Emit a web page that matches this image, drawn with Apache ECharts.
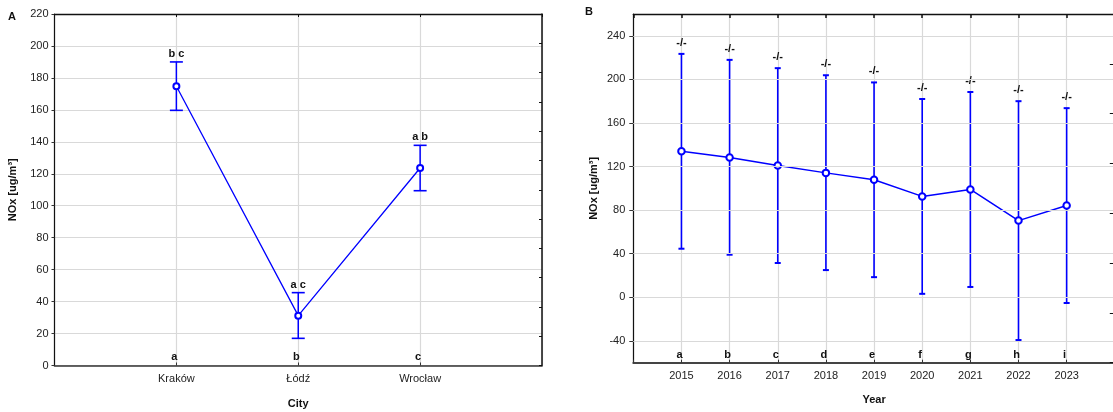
<!DOCTYPE html>
<html>
<head>
<meta charset="utf-8">
<script src="https://cdn.jsdelivr.net/npm/echarts@6/dist/echarts.min.js"></script>
<style>
  html, body { margin: 0; padding: 0; background: #fff; }
  #chart { width: 1113px; height: 412px; }
</style>
</head>
<body>
<div id="chart"></div>
<script>
// Panel A: NOx by city (mean with error bars)
const cities = ['Kraków', 'Łódź', 'Wrocław'];
const cityMean = [174.8, 31.2, 123.6];
const cityLow = [159.7, 17.0, 109.4];
const cityHigh = [190.0, 45.6, 137.8];
const cityGroupTop = ['b c', 'a c', 'a b'];
const cityGroupBottom = ['a', 'b', 'c'];
const cityYTicks = { min: 0, max: 220, step: 20 };

// Panel B: NOx by year
const years = [2015, 2016, 2017, 2018, 2019, 2020, 2021, 2022, 2023];
const yearMean = [134.0, 128.3, 120.9, 114.2, 107.9, 92.6, 99.0, 70.4, 84.3];
const yearLow = [44.6, 39.1, 31.5, 25.0, 18.5, 3.2, 9.5, -39.2, -5.2];
const yearHigh = [223.4, 217.9, 210.3, 203.8, 197.2, 182.0, 188.4, 180.0, 173.6];
const yearGroupTop = ['-/-', '-/-', '-/-', '-/-', '-/-', '-/-', '-/-', '-/-', '-/-'];
const yearGroupBottom = ['a', 'b', 'c', 'd', 'e', 'f', 'g', 'h', 'i'];
const yearYTicks = [-40, 0, 40, 80, 120, 160, 200, 240];
const yearYRange = [-60, 260];

const BLUE = '#0000ff';
const GRID = '#d9d9d9';
const FONT = 'Liberation Sans, Arial, sans-serif';
const TXT = '#222';

function errorBars(capHalf, lineW, capW, labels, gap, fontSize) {
  return function (params, api) {
    const x = api.value(0);
    const lo = api.coord([x, api.value(1)]);
    const hi = api.coord([x, api.value(2)]);
    const st = { stroke: BLUE, lineWidth: lineW };
    const cs = { stroke: BLUE, lineWidth: capW };
    return {
      type: 'group',
      children: [
        { type: 'line', shape: { x1: lo[0], y1: lo[1], x2: hi[0], y2: hi[1] }, style: st },
        { type: 'line', shape: { x1: hi[0] - capHalf, y1: hi[1], x2: hi[0] + capHalf, y2: hi[1] }, style: cs },
        { type: 'line', shape: { x1: lo[0] - capHalf, y1: lo[1], x2: lo[0] + capHalf, y2: lo[1] }, style: cs },
        { type: 'text', x: hi[0], y: hi[1] - gap,
          style: { text: labels[params.dataIndex], fill: '#111', font: 'bold ' + fontSize + 'px ' + FONT,
                   align: 'center', verticalAlign: 'middle' } }
      ]
    };
  };
}

function bottomLetters(labels, yMin, lift) {
  return function (params, api) {
    const p = api.coord([api.value(0), yMin]);
    return {
      type: 'text', x: p[0] - 2, y: p[1] - lift,
      style: { text: labels[params.dataIndex], fill: '#111', font: 'bold 11px ' + FONT,
               align: 'center', verticalAlign: 'middle' }
    };
  };
}

const tickText = { color: TXT, fontFamily: FONT, fontSize: 11 };
const nameText = { color: '#111', fontFamily: FONT, fontSize: 11, fontWeight: 'bold' };
const panelTitle = { fontSize: 11, fontWeight: 'bold', color: '#111', fontFamily: FONT };

const option = {
  animation: false,
  backgroundColor: '#fff',
  textStyle: { fontFamily: FONT },
  title: [
    { text: 'A', left: 8, top: 11, padding: 0, textStyle: panelTitle },
    { text: 'B', left: 585, top: 6, padding: 0, textStyle: panelTitle }
  ],
  grid: [
    { left: 54.5, width: 487.5, top: 14, bottom: 46.5, outerBoundsMode: 'none', containLabel: false },
    { left: 633.3, width: 481.5, top: 14, bottom: 49.3, outerBoundsMode: 'none', containLabel: false }
  ],
  xAxis: [
    { gridIndex: 0, type: 'value', min: 0, max: cities.length + 1, interval: 1,
      name: 'City', nameLocation: 'middle', nameGap: 33, nameTextStyle: nameText,
      axisLine: { lineStyle: { color: '#333', width: 1.6 } },
      axisTick: { show: true, inside: true, length: 3, lineStyle: { color: '#333' } },
      axisLabel: Object.assign({ margin: 8, formatter: v => cities[v - 1] || '', showMinLabel: false, showMaxLabel: false }, tickText),
      splitLine: { show: true, lineStyle: { color: GRID, width: 1.2 } } },
    { gridIndex: 0, type: 'value', position: 'top', min: 0, max: cities.length + 1, interval: 1,
      axisLine: { onZero: false, lineStyle: { color: '#111', width: 1.3 } },
      axisTick: { show: true, inside: true, length: 3, lineStyle: { color: '#111' } },
      axisLabel: { show: false }, splitLine: { show: false } },
    { gridIndex: 1, type: 'value', min: years[0] - 1, max: years[years.length - 1] + 1, interval: 1,
      name: 'Year', nameLocation: 'middle', nameGap: 32, nameTextStyle: nameText,
      axisLine: { onZero: false, lineStyle: { color: '#444', width: 2 } },
      axisTick: { show: true, inside: true, length: 3, lineStyle: { color: '#333' } },
      axisLabel: Object.assign({ margin: 8, formatter: v => (years.indexOf(v) >= 0 ? String(v) : '') }, tickText),
      splitLine: { show: true, lineStyle: { color: GRID, width: 1.2 } } },
    { gridIndex: 1, type: 'value', position: 'top', min: years[0] - 1, max: years[years.length - 1] + 1, interval: 1,
      axisLine: { onZero: false, lineStyle: { color: '#111', width: 1.3 } },
      axisTick: { show: true, inside: true, length: 4, lineStyle: { color: '#111', width: 1.5 } },
      axisLabel: { show: false }, splitLine: { show: false } }
  ],
  yAxis: [
    { gridIndex: 0, type: 'value', min: cityYTicks.min, max: cityYTicks.max, interval: cityYTicks.step,
      name: 'NOx [ug/m³]', nameLocation: 'middle', nameGap: 36, nameTextStyle: nameText,
      axisLine: { show: true, onZero: false, lineStyle: { color: '#111', width: 1.2 } },
      axisTick: { show: true, length: 3, lineStyle: { color: '#333' } },
      axisLabel: Object.assign({ margin: 6 }, tickText),
      splitLine: { show: true, lineStyle: { color: GRID, width: 1.2 } } },
    { gridIndex: 0, type: 'value', position: 'right', min: 0, max: 12, interval: 1,
      axisLine: { show: true, onZero: false, lineStyle: { color: '#111', width: 1.5 } },
      axisTick: { show: true, inside: true, length: 3, lineStyle: { color: '#111' } },
      axisLabel: { show: false }, splitLine: { show: false } },
    { gridIndex: 1, type: 'value', min: yearYRange[0], max: yearYRange[1], interval: 20,
      name: 'NOx [ug/m³]', nameLocation: 'middle', nameGap: 34, nameTextStyle: nameText,
      axisLine: { show: true, onZero: false, lineStyle: { color: '#111', width: 1.2 } },
      axisTick: { show: true, length: 4, customValues: yearYTicks, lineStyle: { color: '#333' } },
      axisLabel: Object.assign({ margin: 8, customValues: yearYTicks }, tickText),
      splitLine: { show: false } },
    { gridIndex: 1, type: 'value', position: 'right', min: 0, max: 7, interval: 1,
      axisLine: { show: true, onZero: false, lineStyle: { color: '#111', width: 1.5 } },
      axisTick: { show: true, inside: true, length: 5, lineStyle: { color: '#111' } },
      axisLabel: { show: false }, splitLine: { show: false } }
  ],
  series: [
    // horizontal grid lines for panel B
    { type: 'line', xAxisIndex: 2, yAxisIndex: 2, data: [], z: 0, silent: true,
      markLine: { silent: true, symbol: 'none', animation: false, label: { show: false },
        lineStyle: { color: GRID, width: 1.2, type: 'solid' },
        data: yearYTicks.map(v => ({ yAxis: v })) } },
    // panel A
    { type: 'custom', xAxisIndex: 0, yAxisIndex: 0, z: 3,
      renderItem: errorBars(6.5, 1.5, 1.6, cityGroupTop, 8, 11),
      encode: { x: 0, y: [1, 2] },
      data: cities.map((c, i) => [i + 1, cityLow[i], cityHigh[i]]) },
    { type: 'line', xAxisIndex: 0, yAxisIndex: 0, z: 4,
      symbol: 'emptyCircle', symbolSize: 6,
      lineStyle: { color: BLUE, width: 1.3 },
      itemStyle: { color: BLUE, borderColor: BLUE, borderWidth: 1.1 },
      data: cities.map((c, i) => [i + 1, cityMean[i]]) },
    { type: 'custom', xAxisIndex: 0, yAxisIndex: 0, z: 5,
      renderItem: bottomLetters(cityGroupBottom, cityYTicks.min, 9),
      data: cities.map((c, i) => [i + 1]) },
    // panel B
    { type: 'custom', xAxisIndex: 2, yAxisIndex: 2, z: 3,
      renderItem: errorBars(3, 1.6, 2, yearGroupTop, 11, 11),
      encode: { x: 0, y: [1, 2] },
      data: years.map((y, i) => [y, yearLow[i], yearHigh[i]]) },
    { type: 'line', xAxisIndex: 2, yAxisIndex: 2, z: 4,
      symbol: 'emptyCircle', symbolSize: 6.5,
      lineStyle: { color: BLUE, width: 1.5 },
      itemStyle: { color: BLUE, borderColor: BLUE, borderWidth: 1.2 },
      data: years.map((y, i) => [y, yearMean[i]]) },
    { type: 'custom', xAxisIndex: 2, yAxisIndex: 2, z: 5,
      renderItem: bottomLetters(yearGroupBottom, yearYRange[0], 8),
      data: years.map(y => [y]) }
  ]
};

const chart = echarts.init(document.getElementById('chart'), null, { renderer: 'canvas' });
chart.setOption(option);
</script>
</body>
</html>
